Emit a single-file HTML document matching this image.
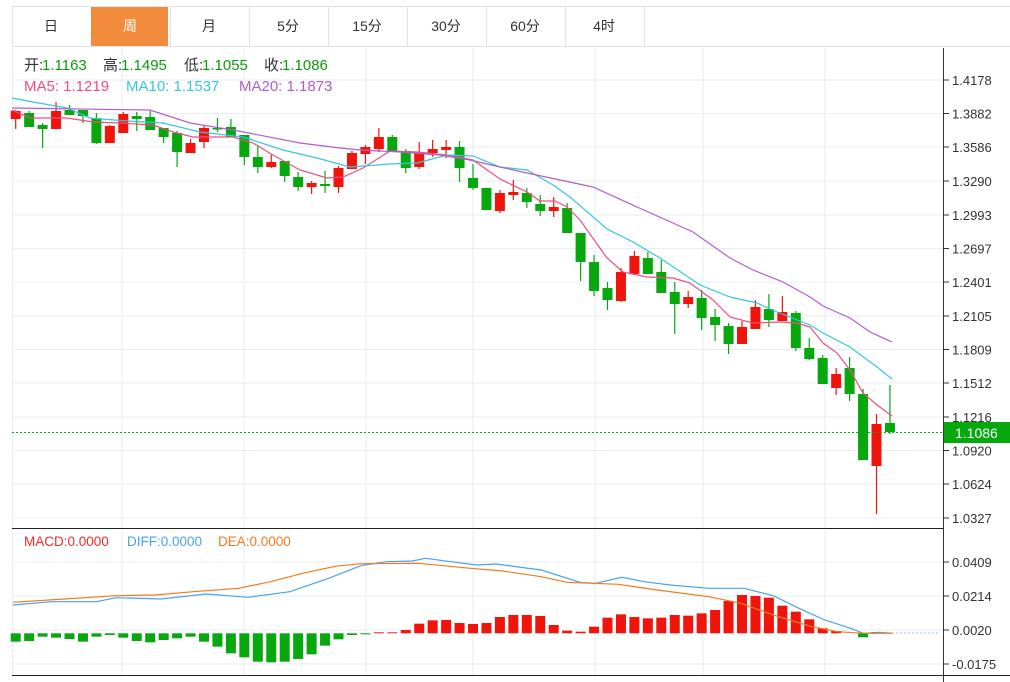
<!DOCTYPE html>
<html><head><meta charset="utf-8"><style>
body{margin:0;width:1010px;height:682px;background:#fff;overflow:hidden;font-family:"Liberation Sans","Noto Sans CJK SC",sans-serif;}
svg{position:absolute;left:0;top:0}
</style></head><body>
<svg id="s" width="1010" height="682" xmlns="http://www.w3.org/2000/svg" font-family="Liberation Sans, Noto Sans CJK SC, sans-serif"></svg>
<script>
var s='';
function L(x1,y1,x2,y2,c,w,d){s+='<line x1="'+x1+'" y1="'+y1+'" x2="'+x2+'" y2="'+y2+'" stroke="'+c+'" stroke-width="'+(w||1)+'"'+(d?' stroke-dasharray="'+d+'"':'')+'/>';}
function R(x,y,w,h,c,st){s+='<rect x="'+x+'" y="'+y+'" width="'+w+'" height="'+h+'" fill="'+c+'"'+(st?' stroke="'+st+'"':'')+'/>';}
function T(x,y,t,c,sz,a){s+='<text x="'+x+'" y="'+y+'" fill="'+c+'" font-size="'+(sz||14)+'"'+(a?' text-anchor="'+a+'"':'')+'>'+t+'</text>';}
function P(pts,c,w){s+='<polyline fill="none" stroke="'+c+'" stroke-width="'+(w||1.2)+'" points="'+pts.map(function(p){return p.join(',')}).join(' ')+'"/>';}
var tabs=['日','周','月','5分','15分','30分','60分','4时'];
L(12,6.5,1010,6.5,'#e2e2e2');L(12,46.5,1010,46.5,'#e2e2e2');
for(var i=0;i<8;i++){var x=12+i*79;
 if(i==1)R(x,7,77,39,'#f28c3c');
 L(x+79.5,7,x+79.5,46,'#e2e2e2');
 T(x+39,31,tabs[i],i==1?'#fff':'#333',14,'middle');}
L(12.5,7,12.5,46,'#e2e2e2');
var gy=[80,113.5,147,181,215,248.5,282,316,349.5,383,417,450.5,484,518];
var gl=['1.4178','1.3882','1.3586','1.3290','1.2993','1.2697','1.2401','1.2105','1.1809','1.1512','1.1216','1.0920','1.0624','1.0327'];
var gx=[122,244,366,473,595,703,825];
gy.forEach(function(y,i){L(12,y,943,y,'#e6eef4');L(943,y,949,y,'#333');T(952,y+5,gl[i],'#333',13);});
[562,596,630,664].forEach(function(y,i){L(12,y,943,y,'#e6eef4');L(943,y,949,y,'#333');T(952,y+5,['0.0409','0.0214','0.0020','-0.0175'][i],'#333',13);});
gx.forEach(function(x){L(x,48,x,528,'#e6eef4');L(x,530,x,675,'#e6eef4');});
L(12.5,48,12.5,675,'#e6eef4');
L(12,528.5,943,528.5,'#222');L(12,675.5,1010,675.5,'#222');L(943.5,48,943.5,682,'#333');
var C=[['r',111,119,110,129],['g',113,127,111,127],['g',125,129,123,148],['r',111,129,102,129],['g',110,115,105,115],['g',110,116,110,123],['g',118,143,113,144],['r',126,143,125,143],['r',114,133,112,133],['g',116,119,112,131],['g',117,130,111,130],['g',128,137,128,143],['g',133,152,131,167],['r',143,153,139,153],['r',128,142,126,148],['g',128,129.5,118,132],['g',127,137,119,137],['g',135,157,135,165],['g',157,167,145,173],['r',162,167,155,168],['g',161,176,161,182],['g',177,187,172,191],['r',183,187,181,194],['g',184,186,171,193],['r',168,187,166,193],['r',153,169,151,169],['r',147,154,145,164],['r',137,149,128,152],['g',137,151,135,151],['g',151,168,149,173],['r',153,167,142,169],['r',149,153,140,157],['r',147,150,140,158],['g',147,168,141,182],['g',178,188,164,190],['g',188,210,188,210],['r',193,211,190,213],['r',192,195,180,200],['g',193,202,188,208],['g',204,211,195,216],['r',207,211,197,217],['g',208,233,203,233],['g',233,262,233,281],['g',262,291,255,296],['g',288,300,282,310],['r',272,301,268,302],['r',256,274,251,274],['g',258,274,252,274],['g',272,293,260,293],['g',292,304,282,334],['r',297,304,291,308],['g',298,318,290,330],['g',317,325,309,341],['g',326,344,323,354],['r',327,344,321,344],['r',307,329,300,329],['g',309,320,294,327],['r',312,321,296,321],['g',313,348,311,351],['g',348,359,338,360],['g',358,384,355,384],['r',374,388,368,395],['g',368,394,357,401],['g',394,460,389,460],['r',424,466,414,514],['g',423,432,385,434]];
C.forEach(function(c,i){var x=15.7+13.45*i,col=c[0]=='r'?'#f0150c':'#06a80e';
 L(x,c[3],x,c[4],col,1.2);R(x-5,c[1],10,Math.max(c[2]-c[1],1.5),col);});
P([[12,110],[30,118],[67,118],[93,122],[120,123],[153,125],[173,132],[193,137],[233,137],[253,143],[273,155],[300,170],[327,178],[343,177],[363,168],[390,151],[417,152],[447,155],[473,160],[500,179],[527,192],[540,201],[555,201],[567,207],[580,220],[607,258],[623,272],[647,277],[673,278],[690,283],[713,300],[730,317],[753,323],[780,322],[797,323],[810,327],[823,343],[837,353],[850,370],[863,393],[877,405],[892,416]],'#ee4f7e');
P([[12,98],[33,102],[67,108],[90,118],[127,121],[163,123],[200,132],[243,137],[283,150],[317,158],[350,167],[390,164],[417,163],[447,155],[473,156],[500,167],[527,170],[553,185],[570,197],[607,229],[633,242],[660,258],[700,285],[730,297],[757,303],[777,312],[810,325],[823,333],[850,347],[877,367],[892,379]],'#36c6df');
P([[12,108],[150,110],[190,123],[233,130],[300,143],[340,148],[360,150],[400,152],[440,155],[470,160],[500,167],[527,173],[593,187],[637,207],[693,232],[730,258],[753,270],[783,282],[810,297],[823,306],[850,318],[870,332],[892,342]],'#b35dcc');
L(12,432.5,943,432.5,'#0aa70e',1,'2,2');
R(944,422,66,21,'#06a80e');T(955,438,'1.1086','#fff',14);
T(24,70,'开:','#333',15);T(42,70,'1.1163','#0a9c0a',15);
T(103,70,'高:','#333',15);T(121,70,'1.1495','#0a9c0a',15);
T(184,70,'低:','#333',15);T(202,70,'1.1055','#0a9c0a',15);
T(264,70,'收:','#333',15);T(282,70,'1.1086','#0a9c0a',15);
T(24,91,'MA5: 1.1219','#ee4f7e',15);T(126,91,'MA10: 1.1537','#36c6df',15);T(239,91,'MA20: 1.1873','#b35dcc',15);
var G=[350,348,335,338,342,350,335,330,338,348,352,345,340,335,350,365,385,397,410,412,410,402,388,362,343,330,328];
var Rr=[322,322,315,296,286,285,294,297,294,276,270,270,273,300,317,320,305,278,268,276,280,278,270,272,265,255,228,210,213,218,242,260,283,310,318];
var z=633.3;
G.forEach(function(v,i){var x=15.7+13.45*i;R(x-5,z,10,v/3+525-z,'#06a80e');});
Rr.forEach(function(v,j){var i=27+j,x=15.7+13.45*i,y=v/3+525;R(x-5,y,10,z-y,'#f0150c');});
R(15.7+13.45*63-5,z,10,4,'#06a80e');R(15.7+13.45*64-5,632,10,1.5,'#f0150c');
function M(a){return a.map(function(p){return [(p[0]/1.552).toFixed(1),(525+p[1]/3).toFixed(1)]});}
P(M([[20,240],[80,230],[150,230],[180,218],[250,222],[320,207],[385,217],[450,200],[510,160],[560,122],[600,110],[640,108],[660,100],[700,110],[740,120],[770,117],[840,135],[900,172],[925,175],[965,157],[1000,170],[1040,180],[1100,190],[1155,190],[1200,212],[1240,250],[1280,285],[1320,310],[1340,325],[1365,322],[1385,325]]),'#4aa3ea');
P(M([[20,232],[100,222],[180,212],[240,210],[300,200],[370,190],[420,170],[470,145],[520,124],[560,116],[650,115],[730,130],[780,138],[840,155],[880,172],[960,178],[1020,195],[1100,215],[1150,235],[1200,270],[1260,305],[1300,320],[1340,325],[1385,325]]),'#f27a1c');
L(892,633,940,633,'#7ccfe8',1,'2,2');
T(24,546,'MACD:0.0000','#ee2a2a',13.5);T(127,546,'DIFF:0.0000','#4aa3ea',13.5);T(218,546,'DEA:0.0000','#f27a1c',13.5);
document.getElementById('s').innerHTML=s;
</script>
</body></html>
